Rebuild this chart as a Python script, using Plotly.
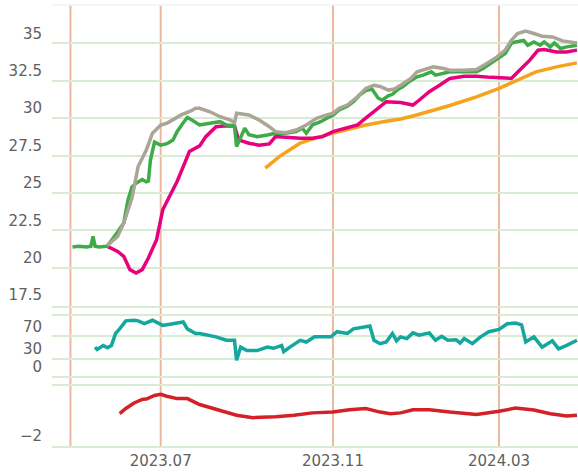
import plotly.graph_objects as go
from plotly.subplots import make_subplots

# ---- data (x = trading-day index) ----
close_x = [1, 4, 8, 10, 11, 12, 14, 18, 23, 26, 28, 30, 32, 35, 37, 38, 39, 41, 44, 47, 50, 52, 55, 57, 59, 63, 68, 73, 76, 79, 80, 81, 83, 85, 87, 91, 96, 100, 105, 110, 113, 115, 118, 122, 125, 128, 131, 135, 138, 141, 144, 147, 150, 152, 155, 157, 160, 162, 165, 169, 172, 176, 178, 182, 185, 191, 198, 201, 206, 209, 212, 215, 217, 221, 223, 226, 229, 231, 234, 236, 239, 242, 247]
close_y = [21.4, 21.45, 21.4, 21.45, 22.1, 21.45, 21.4, 21.45, 22.4, 23.0, 24.5, 25.4, 25.65, 25.9, 25.75, 25.8, 27.2, 28.4, 28.2, 28.3, 28.55, 29.1, 29.7, 30.05, 29.9, 29.55, 29.66, 29.77, 29.55, 29.55, 29.5, 28.1, 28.77, 29.33, 28.9, 28.77, 28.88, 29.0, 29.0, 29.1, 29.33, 29.0, 29.55, 29.77, 30.0, 30.2, 30.55, 30.8, 31.1, 31.55, 31.85, 31.95, 31.35, 31.2, 31.5, 31.6, 31.95, 32.1, 32.43, 32.77, 32.88, 33.1, 32.88, 33.0, 33.1, 33.1, 33.1, 33.3, 33.77, 34.0, 34.33, 35.0, 35.1, 35.2, 34.88, 35.1, 34.88, 35.1, 34.77, 35.03, 34.66, 34.77, 34.88]

upper_x = [18, 23, 26, 30, 33, 37, 40, 44, 47, 51, 54, 59, 61, 63, 68, 73, 78, 80, 81, 87, 92, 97, 100, 105, 110, 115, 120, 125, 128, 131, 135, 140, 144, 148, 151, 155, 158, 161, 166, 169, 174, 177, 182, 185, 192, 198, 203, 208, 212, 215, 218, 222, 226, 230, 235, 240, 247]
upper_y = [21.5, 22.1, 23.0, 24.66, 26.77, 27.88, 29.0, 29.55, 29.66, 30.0, 30.22, 30.5, 30.66, 30.66, 30.43, 30.1, 29.88, 29.7, 30.33, 30.22, 29.88, 29.43, 29.1, 29.03, 29.21, 29.55, 30.0, 30.22, 30.33, 30.66, 30.88, 31.43, 31.99, 32.2, 32.12, 31.88, 31.95, 32.2, 32.66, 33.1, 33.32, 33.43, 33.32, 33.21, 33.2, 33.26, 33.66, 34.1, 34.55, 35.21, 35.66, 35.83, 35.66, 35.48, 35.43, 35.17, 35.03]

mid_x = [18, 23, 26, 29, 32, 35, 38, 42, 45, 48, 52, 56, 58, 63, 66, 71, 76, 80, 82, 87, 92, 97, 100, 105, 112, 118, 123, 128, 135, 140, 144, 149, 154, 161, 167, 170, 175, 180, 185, 192, 198, 205, 209, 215, 219, 224, 228, 231, 237, 242, 247]
mid_y = [21.43, 21.1, 20.77, 19.88, 19.66, 19.88, 20.66, 21.88, 23.88, 24.66, 25.77, 27.1, 27.77, 28.15, 28.77, 29.43, 29.5, 29.48, 28.55, 28.33, 28.2, 28.28, 28.77, 28.73, 28.66, 28.66, 28.77, 29.1, 29.33, 29.55, 30.0, 30.55, 31.1, 31.05, 30.88, 31.2, 31.77, 32.2, 32.66, 32.81, 32.81, 32.73, 32.7, 32.66, 33.21, 33.88, 34.55, 34.59, 34.43, 34.43, 34.55]

long_x = [95, 102, 112, 120, 128, 136, 144, 154, 161, 167, 174, 180, 185, 198, 209, 218, 227, 237, 247]
long_y = [26.66, 27.45, 28.33, 28.7, 29.0, 29.26, 29.55, 29.8, 29.95, 30.15, 30.45, 30.65, 30.85, 31.43, 31.99, 32.55, 33.1, 33.43, 33.7]

osc_x = [12, 13, 16, 18, 20, 22, 24, 27, 31, 33, 36, 40, 45, 50, 55, 57, 61, 63, 68, 71, 76, 79, 80, 81, 83, 86, 91, 96, 99, 103, 104, 107, 112, 115, 119, 123, 127, 130, 135, 138, 143, 146, 148, 151, 154, 157, 159, 161, 164, 167, 170, 175, 178, 181, 184, 188, 190, 192, 196, 200, 204, 209, 213, 217, 220, 222, 226, 230, 235, 238, 242, 247]
osc_y = [51, 47, 54, 50, 54, 75, 83, 97, 98, 97, 92, 98, 89, 92, 95, 83, 75, 75, 72, 69, 63, 63, 63, 28, 51, 45, 45, 51, 49, 54, 43, 51, 63, 60, 69, 69, 69, 78, 75, 83, 86, 88, 63, 57, 60, 75, 62, 69, 66, 76, 72, 76, 63, 70, 63, 64, 58, 66, 57, 69, 78, 82, 92, 93, 90, 60, 69, 51, 62, 48, 54, 63]

trend_x = [24, 27, 31, 35, 37, 41, 44, 47, 52, 57, 63, 68, 76, 81, 89, 100, 109, 118, 128, 136, 144, 151, 156, 161, 167, 175, 185, 198, 209, 217, 226, 234, 242, 247]
trend_y = [-1.19, -1.06, -0.92, -0.83, -0.82, -0.73, -0.70, -0.75, -0.81, -0.81, -0.96, -1.04, -1.15, -1.23, -1.29, -1.27, -1.23, -1.17, -1.15, -1.09, -1.06, -1.15, -1.19, -1.17, -1.09, -1.09, -1.15, -1.21, -1.13, -1.05, -1.10, -1.19, -1.25, -1.23]

tick_pos = [0, 44, 128, 209]
tick_text = ["", "2023.07", "2023.11", "2024.03"]

price_ticks = [17.5, 20, 22.5, 25, 27.5, 30, 32.5, 35]
price_labels = ["17.5", "20", "22.5", "25", "27.5", "30", "32.5", "35"]
osc_ticks = [0, 30, 70]
trend_ticks = [-2]

GRID = "#d9ebd3"
SALMON = "#efb6a0"
TXT = "#606060"

fig = make_subplots(rows=3, cols=1, shared_xaxes=True)

fig.add_trace(go.Scatter(x=long_x, y=long_y, mode="lines", line=dict(color="#f7a21b", width=3.5)), row=1, col=1)
fig.add_trace(go.Scatter(x=mid_x, y=mid_y, mode="lines", line=dict(color="#e8007d", width=3.5)), row=1, col=1)
fig.add_trace(go.Scatter(x=close_x, y=close_y, mode="lines", line=dict(color="#3dab47", width=3.5)), row=1, col=1)
fig.add_trace(go.Scatter(x=upper_x, y=upper_y, mode="lines", line=dict(color="#aaa595", width=3.5)), row=1, col=1)
fig.add_trace(go.Scatter(x=osc_x, y=osc_y, mode="lines", line=dict(color="#13a79d", width=3.5)), row=2, col=1)
fig.add_trace(go.Scatter(x=trend_x, y=trend_y, mode="lines", line=dict(color="#d42027", width=3.5)), row=3, col=1)

xr = [-9, 247.5]
common_x = dict(range=xr, showgrid=False, zeroline=False, tickvals=tick_pos, ticktext=tick_text, ticks="",
                showline=True, linecolor=GRID, linewidth=2)
fig.update_layout(
    xaxis=dict(**common_x, showticklabels=False, mirror=False),
    xaxis2=dict(**common_x, showticklabels=False, mirror=True),
    xaxis3=dict(**common_x, showticklabels=True, mirror=True),
)
common_y = dict(showgrid=True, gridcolor=GRID, gridwidth=2, zeroline=False, ticks="",
                ticklabelshift=-10, ticklabelstandoff=9, showline=False)
fig.update_layout(
    yaxis=dict(**common_y, domain=[0.3182, 1], range=[17.45, 37.5], tickvals=price_ticks, ticktext=price_labels),
    yaxis2=dict(**common_y, domain=[0.1584, 0.2955], range=[0, 105.5], tickvals=osc_ticks),
    yaxis3=dict(**common_y, domain=[0, 0.1357], range=[-2.005, -0.5], tickvals=trend_ticks),
)

shapes = []
for p in tick_pos:
    shapes.append(dict(type="line", xref="x", yref="paper", x0=p, x1=p, y0=0, y1=1.002,
                       line=dict(color=SALMON, width=2), layer="below"))
shapes.append(dict(type="line", xref="paper", yref="paper", x0=0, x1=1, y0=1.002, y1=1.002,
                   line=dict(color="#f3f3f3", width=1.5), layer="below"))
fig.update_layout(
    shapes=shapes,
    width=578, height=472,
    margin=dict(l=52, r=0, t=6, b=26),
    showlegend=False,
    plot_bgcolor="white", paper_bgcolor="white",
    font=dict(family="DejaVu Sans", size=15, color=TXT),
)

fig.write_html("out.html", config={"displayModeBar": False},
               post_script="document.body.style.margin='0';document.body.style.overflow='hidden';")
